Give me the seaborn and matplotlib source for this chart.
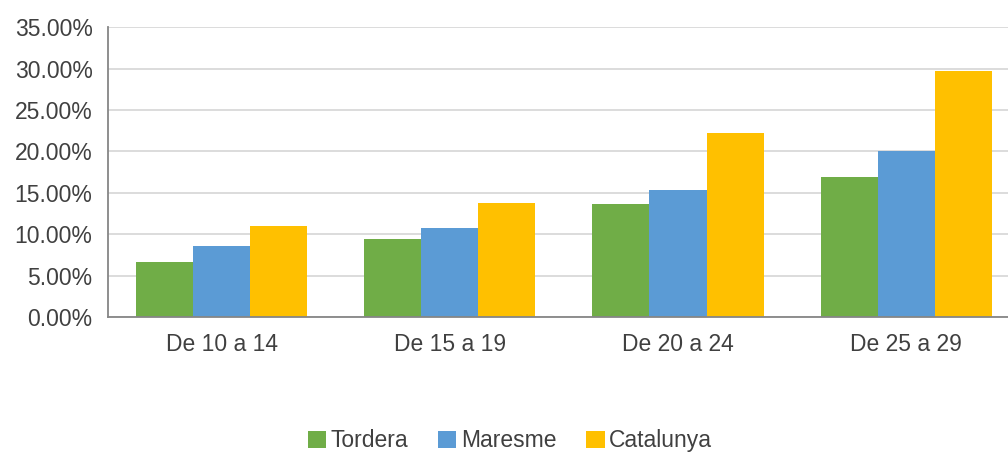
import numpy as np
import pandas as pd
import matplotlib
matplotlib.use('Agg')
import matplotlib.pyplot as plt
import seaborn as sns
from matplotlib.ticker import PercentFormatter

groups = ['De 10 a 14', 'De 15 a 19', 'De 20 a 24', 'De 25 a 29']
tordera = [6.6, 9.4, 13.6, 16.9]
maresme = [8.6, 10.8, 15.3, 20.1]
catalunya = [11.0, 13.8, 22.2, 29.7]
series = ['Tordera', 'Maresme', 'Catalunya']
colors = ['#70AD47', '#5B9BD5', '#FFC000']

df = pd.DataFrame({
    'group': groups * 3,
    'value': tordera + maresme + catalunya,
    'serie': [s for s in series for _ in groups],
})

sns.set_style('white')
plt.rcParams['font.family'] = ['Liberation Sans', 'DejaVu Sans']
text_color = '#404040'

fig = plt.figure(figsize=(10.08, 4.54), dpi=100)
ax = fig.add_axes([0.107, 0.302, 0.893, 0.638])

sns.barplot(data=df, x='group', y='value', hue='serie', palette=colors,
            width=0.75, gap=0, saturation=1, linewidth=0, ax=ax, legend=True)

ax.set_ylim(0, 35)
ax.set_yticks(np.arange(0, 36, 5))
ax.yaxis.set_major_formatter(PercentFormatter(decimals=2))
ax.set_xlim(-0.5, 3.447)
ax.set_xlabel('')
ax.set_ylabel('')
ax.grid(axis='y', color='#d9d9d9', linewidth=1.3)
ax.set_axisbelow(True)
for side in ['top', 'right']:
    ax.spines[side].set_visible(False)
for side in ['left', 'bottom']:
    ax.spines[side].set_color('#868686')
    ax.spines[side].set_linewidth(1.3)
ax.tick_params(axis='both', length=0, labelsize=16.5, colors=text_color)
ax.tick_params(axis='x', pad=11.5)
ax.tick_params(axis='y', pad=11)

handles, labels = ax.get_legend_handles_labels()
ax.get_legend().remove()
fig.legend(handles, labels, loc='center', bbox_to_anchor=(0.506, 0.029), ncol=3,
           frameon=False, fontsize=16.5, handlelength=0.8, handleheight=0.8,
           handletextpad=0.2, columnspacing=1.3, labelcolor=text_color)

fig.savefig('out.png', dpi=100)
